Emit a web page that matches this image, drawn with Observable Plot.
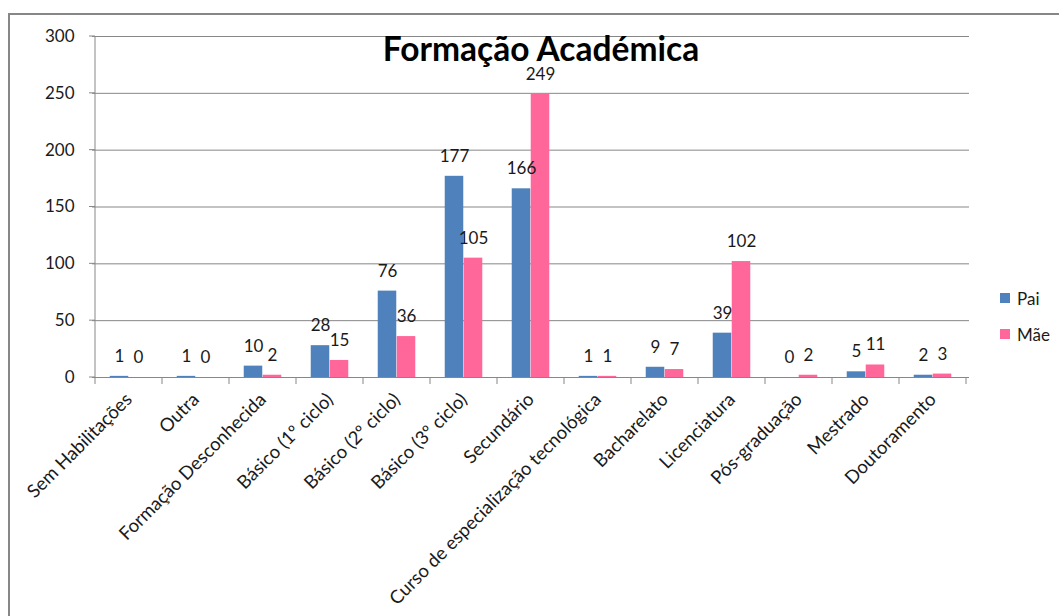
<!DOCTYPE html>
<html>
<head>
<meta charset="utf-8">
<script src="https://cdn.jsdelivr.net/npm/d3@7"></script>
<script src="https://cdn.jsdelivr.net/npm/@observablehq/plot@0.6"></script>
<style>
  body { margin: 0; background: #fff; font-family: Lato, "Open Sans", sans-serif; }
  #wrap { position: relative; width: 1059px; height: 616px; overflow: hidden; }
  #frame { position: absolute; left: 8px; top: 13px; width: 1200px; height: 800px;
           border-left: 2px solid #878787; border-top: 2px solid #878787; pointer-events: none; }
  #chart { position: absolute; left: 0; top: 0; }
  #chart svg g[aria-label*="y-axis"], #chart svg g[aria-label*="y-axis"] text { font-size: 17px !important; }
  #chart svg g[aria-label*="x-axis"], #chart svg g[aria-label*="x-axis"] text { font-size: 18.5px !important; }
  #legend { position: absolute; left: 1000px; top: 288px; font-size: 17px; color: #1a1a1a; }
  .lg-row { display: flex; align-items: center; height: 20px; margin-bottom: 16px; }
  .lg-sw { width: 10px; height: 10px; margin-right: 7px; }
</style>
</head>
<body>
<div id="wrap">
  <div id="chart"></div>
  <div id="frame"></div>
  <div id="legend"></div>
</div>
<script>
const chartTitle = "Formação Académica";
const categories = [
  "Sem Habilitações", "Outra", "Formação Desconhecida", "Básico (1º ciclo)",
  "Básico (2º ciclo)", "Básico (3º ciclo)", "Secundário",
  "Curso de especialização tecnológica", "Bacharelato", "Licenciatura",
  "Pós-graduação", "Mestrado", "Doutoramento"
];
const paiValues = [1, 1, 10, 28, 76, 177, 166, 1, 9, 39, 0, 5, 2];
const maeValues = [0, 0, 2, 15, 36, 105, 249, 1, 7, 102, 2, 11, 3];
const seriesNames = ["Pai", "Mãe"];
const seriesColors = ["#4F81BD", "#FF6699"];
const yTicks = [0, 50, 100, 150, 200, 250, 300];

const rows = [];
categories.forEach((c, i) => {
  rows.push({cat: c, series: seriesNames[0], value: paiValues[i]});
  rows.push({cat: c, series: seriesNames[1], value: maeValues[i]});
});
const paiRows = rows.filter(d => d.series === seriesNames[0]);
const maeRows = rows.filter(d => d.series === seriesNames[1]);

const W = 1059, H = 616;
const mL = 92, mR = 90, mT = 36, mB = 239;
const bw = (W - mL - mR) / categories.length;
const barW = 19;
const half = bw / 2;
const gridColor = "#878787";

function axesDecor(index, scales, values, dimensions) {
  const x = scales.x, y = scales.y;
  const b = x.bandwidth ? x.bandwidth() : bw;
  const y0 = y(0);
  const top = y(yTicks[yTicks.length - 1]);
  const g = d3.create("svg:g").attr("stroke", gridColor).attr("stroke-width", 1);
  const edges = categories.map(c => x(c)).concat([x(categories[categories.length - 1]) + b]);
  g.selectAll("line.xt").data(edges).join("line")
    .attr("x1", d => d).attr("x2", d => d)
    .attr("y1", y0).attr("y2", y0 + 7);
  g.append("line").attr("x1", edges[0]).attr("x2", edges[0]).attr("y1", top).attr("y2", y0);
  g.selectAll("line.yt").data(yTicks).join("line")
    .attr("x1", edges[0] - 6).attr("x2", edges[0])
    .attr("y1", d => y(d)).attr("y2", d => y(d));
  return g.node();
}

const chart = Plot.plot({
  width: W,
  height: H,
  marginLeft: mL,
  marginRight: mR,
  marginTop: mT,
  marginBottom: mB,
  style: {fontFamily: "Lato, 'Open Sans', sans-serif", color: "#1a1a1a", background: "transparent"},
  x: {domain: categories, padding: 0, tickSize: 0, tickPadding: 19, tickRotate: -45, label: null},
  y: {domain: [0, 300], ticks: yTicks, tickSize: 0, tickPadding: 18, label: null},
  color: {domain: seriesNames, range: seriesColors},
  marks: [
    Plot.ruleY(yTicks, {stroke: gridColor, strokeWidth: 1}),
    Plot.barY(paiRows, {x: "cat", y: "value", fill: "series", insetLeft: half - barW, insetRight: half}),
    Plot.barY(maeRows, {x: "cat", y: "value", fill: "series", insetLeft: half, insetRight: half - barW}),
    axesDecor,
    Plot.text(paiRows, {x: "cat", y: "value", text: d => String(d.value), dx: -barW / 2, dy: -20, fontSize: 17, fill: "#1a1a1a"}),
    Plot.text(maeRows, {x: "cat", y: "value", text: d => String(d.value), dx: barW / 2, dy: -20, fontSize: 17, fill: "#1a1a1a"}),
    Plot.text([chartTitle], {frameAnchor: "top", text: d => d, dx: 10, dy: 14, lineAnchor: "middle", fontSize: 33.5, fontWeight: "bold", fill: "#000"})
  ]
});
document.getElementById("chart").appendChild(chart);

const legend = document.getElementById("legend");
seriesNames.forEach((name, i) => {
  const row = document.createElement("div");
  row.className = "lg-row";
  const sw = document.createElement("div");
  sw.className = "lg-sw";
  sw.style.background = seriesColors[i];
  const label = document.createElement("span");
  label.textContent = name;
  row.appendChild(sw);
  row.appendChild(label);
  legend.appendChild(row);
});
</script>
</body>
</html>
